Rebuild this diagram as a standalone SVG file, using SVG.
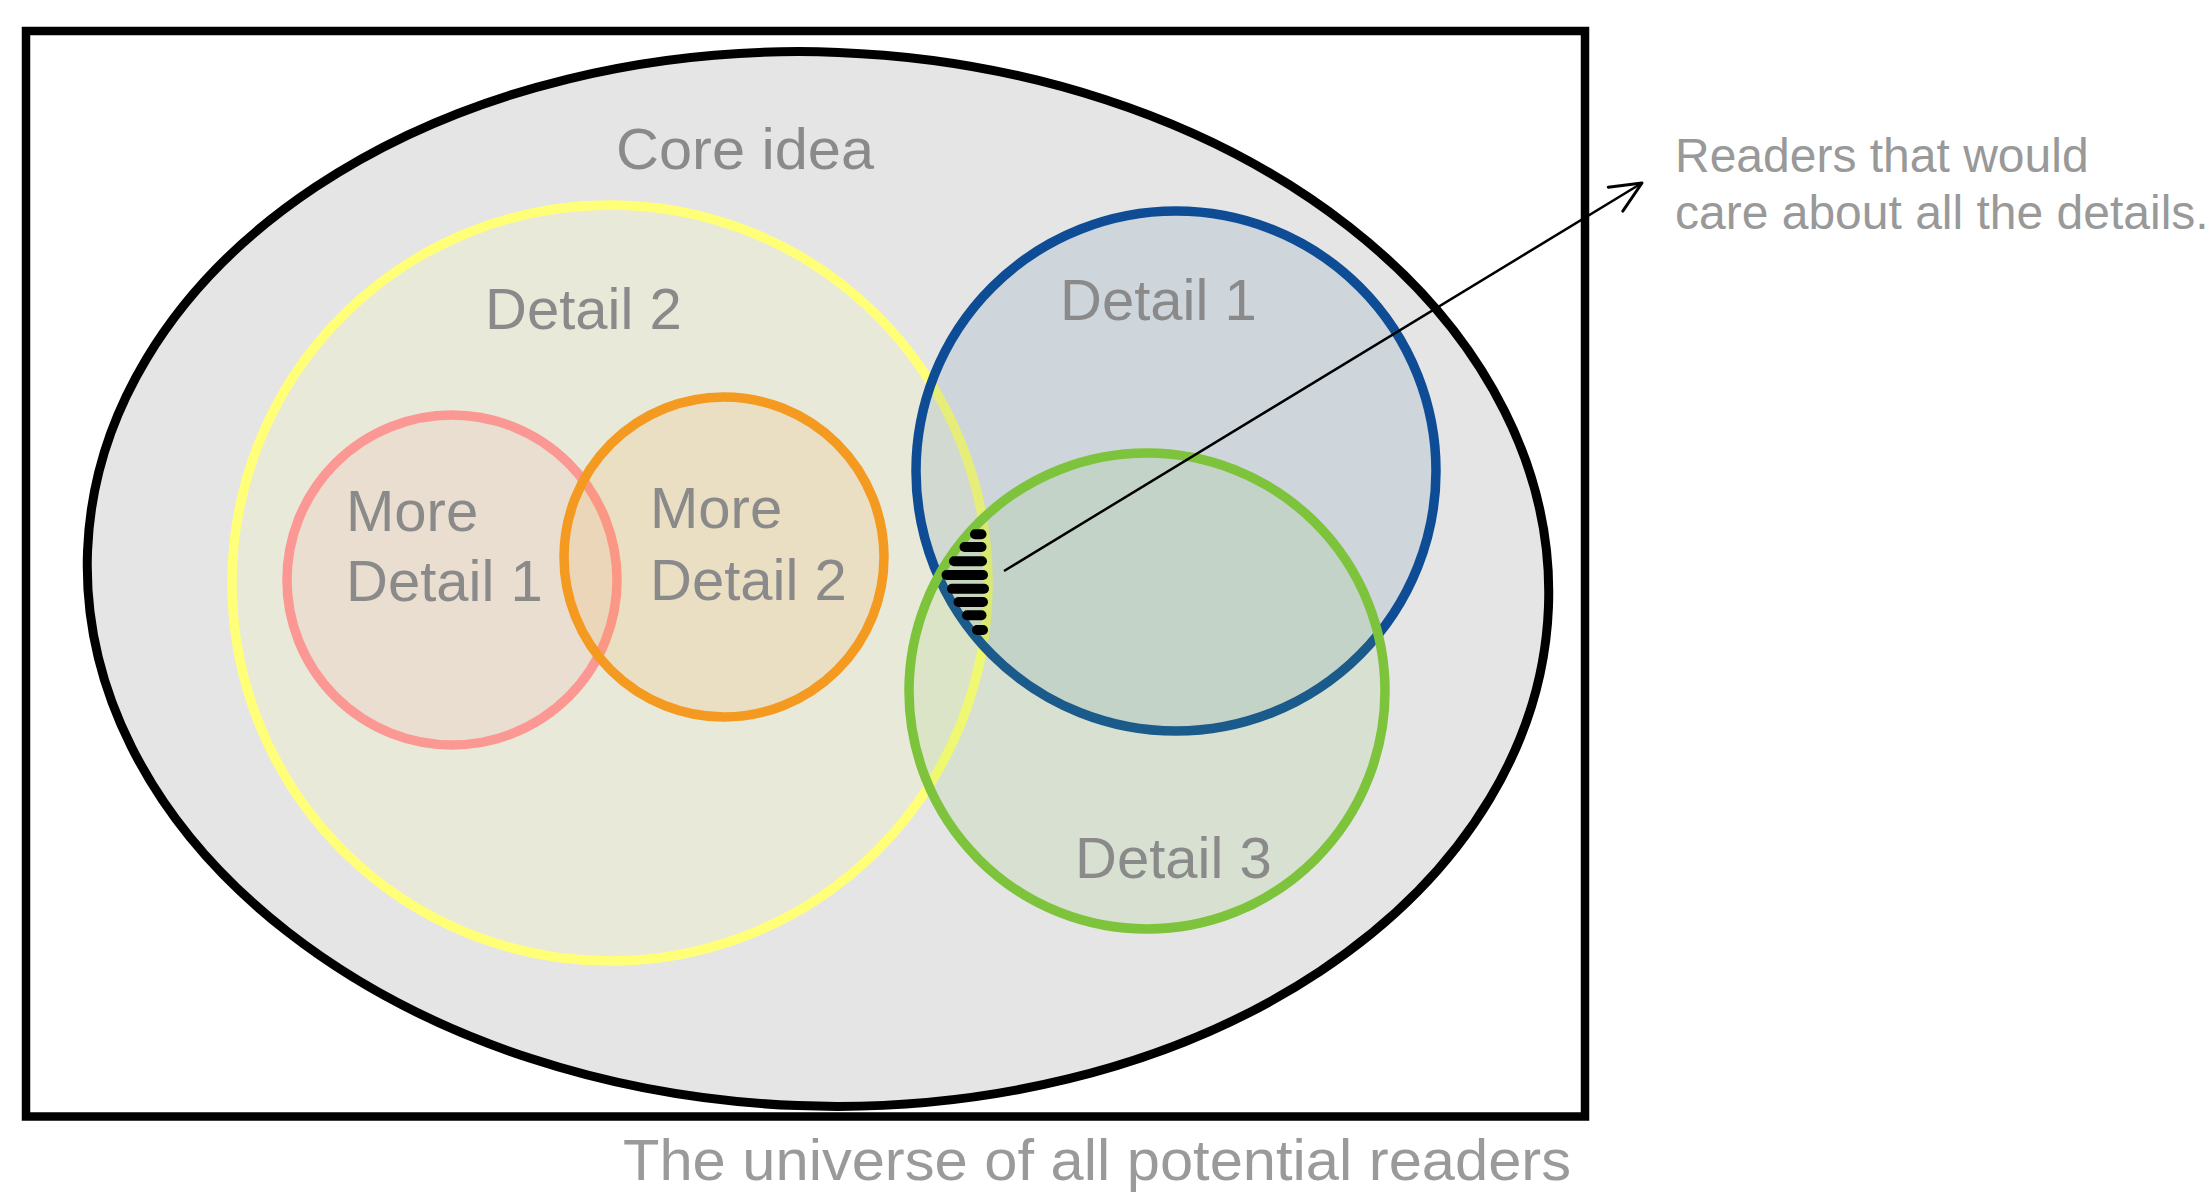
<svg xmlns="http://www.w3.org/2000/svg" width="2212" height="1201" viewBox="0 0 2212 1201">
<defs>
<style>
.lbl{font-family:"Liberation Sans",Arial,Helvetica,sans-serif;font-size:58px;fill:#8a8a8a}
.note{font-family:"Liberation Sans",Arial,Helvetica,sans-serif;font-size:48px;fill:#999999}
.circ{stroke-width:9.5}
.stripe{stroke:#000;stroke-width:10;stroke-linecap:round}
</style>
<marker id="arrow" markerUnits="userSpaceOnUse" markerWidth="40" markerHeight="40" viewBox="-36 -20 40 40" refX="0" refY="0" orient="auto">
<path d="M-31,-14 L0,0 L-31,14" fill="none" stroke="#000" stroke-width="3" stroke-linecap="round" stroke-linejoin="round"/>
</marker>
</defs>
<rect width="2212" height="1201" fill="#ffffff"/>
<g id="universe">
<rect x="26" y="31" width="1559" height="1085.5" fill="#ffffff" stroke="#000" stroke-width="8.5"/>
<text class="lbl" x="623" y="1180" textLength="948" lengthAdjust="spacingAndGlyphs" style="fill:#9a9a9a">The universe of all potential readers</text>
</g>
<g id="core-idea">
<ellipse cx="818" cy="579" rx="731" ry="527" transform="rotate(2.2 818 579)" fill="#e5e5e5" stroke="#000" stroke-width="9"/>
<text class="lbl" x="616" y="169" textLength="258" lengthAdjust="spacingAndGlyphs">Core idea</text>
</g>
<g id="detail-2">
<circle class="circ" cx="610" cy="583" r="378" fill="#ffff99" fill-opacity="0.15" stroke="#ffff78"/>
<text class="lbl" x="485" y="329">Detail 2</text>
</g>
<g id="more-detail-1">
<circle class="circ" cx="452" cy="580" r="165" fill="#f99a94" fill-opacity="0.13" stroke="#fb9893"/>
<text class="lbl" x="346" y="531">More</text>
<text class="lbl" x="346" y="601">Detail 1</text>
</g>
<g id="more-detail-2">
<circle class="circ" cx="724" cy="557" r="160" fill="#f49a20" fill-opacity="0.12" stroke="#f49a20"/>
<text class="lbl" x="650" y="528">More</text>
<text class="lbl" x="650" y="600">Detail 2</text>
</g>
<g id="detail-1">
<circle class="circ" cx="1176" cy="471" r="260" fill="#0b4a8b" fill-opacity="0.1" stroke="#0e4d96"/>
<text class="lbl" x="1060" y="320">Detail 1</text>
</g>
<g id="detail-3">
<circle class="circ" cx="1147" cy="691" r="238" fill="#7dc242" fill-opacity="0.12" stroke="#7dc43c"/>
<text class="lbl" x="1075" y="878">Detail 3</text>
</g>
<g id="all-details-hatch">
<line class="stripe" x1="975" y1="534.3" x2="981.5" y2="534.3"/>
<line class="stripe" x1="964.5" y1="547" x2="981.5" y2="547"/>
<line class="stripe" x1="954" y1="561.3" x2="982" y2="561.3"/>
<line class="stripe" x1="946.5" y1="575" x2="983" y2="575"/>
<line class="stripe" x1="952" y1="588.7" x2="984" y2="588.7"/>
<line class="stripe" x1="958.5" y1="602" x2="983" y2="602"/>
<line class="stripe" x1="967" y1="615.3" x2="981.5" y2="615.3"/>
<line class="stripe" x1="977" y1="630" x2="983" y2="630"/>
</g>
<g id="readers-note">
<text class="note" x="1675" y="172">Readers that would</text>
<text class="note" x="1675" y="229">care about all the details.</text>
</g>
<g id="connectors">
<line x1="1004" y1="571" x2="1642" y2="183" stroke="#000" stroke-width="2.5" marker-end="url(#arrow)"/>
</g>
</svg>
